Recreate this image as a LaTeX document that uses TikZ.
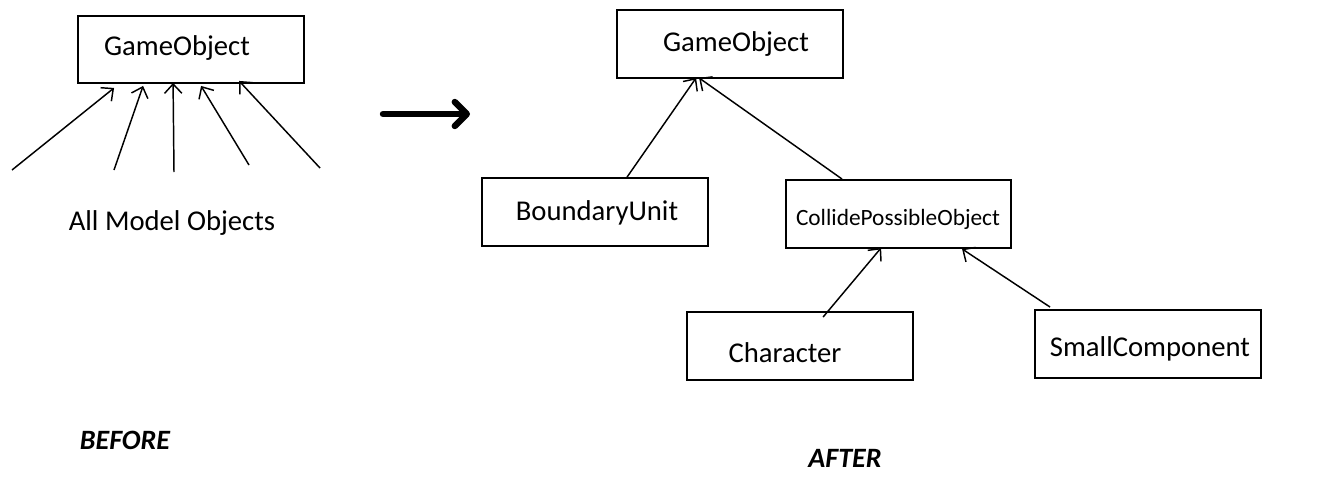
\documentclass[tikz,border=0pt]{standalone}
\usepackage{fontspec}
\setmainfont{Carlito}
\usetikzlibrary{arrows.meta,fit,calc}
\begin{document}
\begin{tikzpicture}[x=0.75pt,y=-0.75pt,
  box/.style={draw=black,line width=1.4pt,inner sep=0pt,fill=none},
  lbl/.style={anchor=base,inner sep=0pt,font=\fontsize{21.5}{26}\selectfont},
  small/.style={anchor=base,inner sep=0pt,font=\fontsize{17.5}{21}\selectfont},
  title/.style={anchor=base,inner sep=0pt,font=\fontsize{21}{25}\selectfont\bfseries\itshape},
  arr/.style={line width=1.1pt,-{Straight Barb[length=7pt,width=13pt]}},
  bigarr/.style={line width=4.8pt,line cap=round,-{Straight Barb[length=9pt,width=18pt,line cap=round,line join=round]}}]
\useasboundingbox[fill=white] (0,0) rectangle (1336,500);
% BEFORE
\node[box,fit={(78,16) (304,83)}] (go1) {};
\node[lbl] (go1t) at (177,55) {GameObject};
\coordinate (s1) at (12,170);
\coordinate (s2) at (114,170);
\coordinate (s3) at (174,172);
\coordinate (s4) at (249,165);
\coordinate (s5) at (320,168);
\draw[arr] (s1) -- ($(go1.south west)+(37,4)$);
\draw[arr] (s2) -- ($(go1.south west)+(66,2)$);
\draw[arr] (s3) -- ($(go1.south west)+(96,-1)$);
\draw[arr] (s4) -- ($(go1.south west)+(124,2)$);
\draw[arr] (s5) -- ($(go1.south west)+(162,-3)$);
\node[lbl] (all) at (172,230) {All Model Objects};
\node[title] (before) at (125,449) {BEFORE};
% big arrow
\coordinate (ba1) at (383,114);
\coordinate (ba2) at (470,114);
\draw[bigarr] (ba1) -- (ba2);
% AFTER
\node[box,fit={(617,10) (843,78)}] (go2) {};
\node[lbl] (go2t) at (736,51) {GameObject};
\node[box,fit={(482,178) (708,246)}] (bu) {};
\node[lbl] (but) at (597,220) {BoundaryUnit};
\node[box,fit={(786,180) (1011,248)}] (cpo) {};
\node[small] (cpot) at (898,225) {CollidePossibleObject};
\node[box,fit={(687,312) (913,380)}] (ch) {};
\node[lbl] (cht) at (785,362) {Character};
\node[box,fit={(1035,310) (1261,378)}] (sc) {};
\node[lbl] (sct) at (1150,356) {SmallComponent};
\draw[arr] ($(bu.north west)+(146,0)$) -- ($(go2.south west)+(80,-1)$);
\draw[arr] ($(cpo.north west)+(57,0)$) -- ($(go2.south west)+(83,-1)$);
\draw[arr] ($(ch.north west)+(137,6)$) -- ($(cpo.south west)+(96,-1)$);
\draw[arr] ($(sc.north west)+(16,-2)$) -- ($(cpo.south west)+(177,0)$);
\node[title] (after) at (845,467) {AFTER};
\end{tikzpicture}
\end{document}
